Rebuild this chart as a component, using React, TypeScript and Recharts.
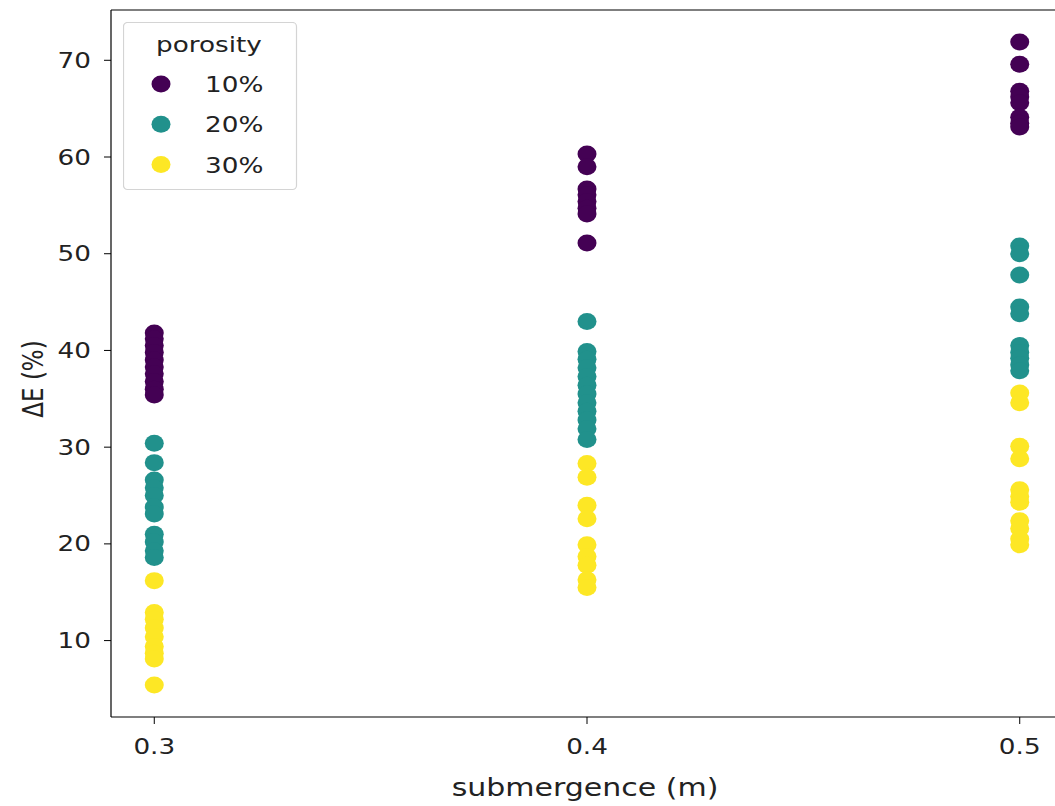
import React from 'react';
import { ScatterChart, Scatter, XAxis, YAxis, ReferenceLine } from 'recharts';

const FONT = '"DejaVu Sans", Verdana, sans-serif';
const TEXT = '#222';
const STRETCH = 1.25; // horizontal widening of the lettering
const TICK_FS = 21;
const LABEL_FS = 24;

// Submergence depths (m) and axis ticks
const SUBMERGENCE = [0.3, 0.4, 0.5];
const X_TICKS = [0.3, 0.4, 0.5];
const Y_TICKS = [10, 20, 30, 40, 50, 60, 70];

// ΔE (%) for porosity 10 %
const dE10_at030 = [41.8, 41.2, 40.5, 39.8, 39.0, 38.3, 37.6, 36.8, 36.0, 35.4];
const dE10_at040 = [60.3, 59.0, 56.7, 56.1, 55.4, 54.7, 54.1, 51.1];
const dE10_at050 = [71.9, 69.6, 66.8, 66.2, 65.6, 64.1, 63.5, 63.1];

// ΔE (%) for porosity 20 %
const dE20_at030 = [30.4, 28.4, 26.6, 25.8, 25.0, 23.8, 23.1, 21.0, 20.2, 19.3, 18.6];
const dE20_at040 = [43.0, 39.9, 39.1, 38.2, 37.3, 36.4, 35.5, 34.6, 33.7, 32.8, 31.9, 30.8];
const dE20_at050 = [50.8, 50.0, 47.8, 44.5, 43.8, 40.5, 39.8, 39.2, 38.5, 37.9];

// ΔE (%) for porosity 30 %
const dE30_at030 = [16.2, 12.9, 12.2, 11.3, 10.4, 9.4, 8.7, 8.1, 5.4];
const dE30_at040 = [28.3, 26.9, 24.0, 22.6, 19.9, 18.7, 17.8, 16.3, 15.5];
const dE30_at050 = [35.6, 34.6, 30.1, 28.8, 25.6, 24.9, 24.3, 22.4, 21.6, 20.5, 19.9];

const POROSITY_LABELS = ['10%', '20%', '30%'];
const POROSITY_COLORS = ['#440154', '#21918c', '#fde725'];
const POROSITY_VALUES = [
  [dE10_at030, dE10_at040, dE10_at050],
  [dE20_at030, dE20_at040, dE20_at050],
  [dE30_at030, dE30_at040, dE30_at050],
];

const series = POROSITY_LABELS.map((label, i) => ({
  label,
  color: POROSITY_COLORS[i],
  points: POROSITY_VALUES[i].flatMap((vals, j) =>
    vals.map((y) => ({ x: SUBMERGENCE[j], y }))
  ),
}));

const X_DOMAIN: [number, number] = [0.29, 0.51];
const Y_DOMAIN: [number, number] = [2.1, 75.2];

const MARK_RX = 9.5;
const MARK_RY = 8.5;

const dot = (color: string) => (props: any) => (
  <ellipse cx={props.cx} cy={props.cy} rx={MARK_RX} ry={MARK_RY} fill={color} />
);

const XTick = (props: any) => {
  const { x, y, payload } = props;
  return (
    <text transform={`translate(${x},${y + 30}) scale(${STRETCH},1)`} textAnchor="middle"
      fontFamily={FONT} fontSize={TICK_FS} fill={TEXT}>
      {Number(payload.value).toFixed(1)}
    </text>
  );
};

const YTick = (props: any) => {
  const { x, y, payload } = props;
  return (
    <text transform={`translate(${x},${y + 7.6}) scale(${STRETCH},1)`} textAnchor="end"
      fontFamily={FONT} fontSize={TICK_FS} fill={TEXT}>
      {payload.value}
    </text>
  );
};

const LegendBox = () => (
  <svg width={175} height={170} style={{ display: 'block' }}>
    <rect x={0.5} y={0.5} width={173} height={167} rx={4} ry={4}
      fill="#fff" fillOpacity={0.8} stroke="#d4d4d4" strokeWidth={1.2} />
    <text transform={`translate(86,30) scale(${STRETCH},1)`} textAnchor="middle"
      fontFamily={FONT} fontSize={TICK_FS} fill={TEXT}>
      porosity
    </text>
    {series.map((s, i) => (
      <g key={s.label}>
        <ellipse cx={38} cy={62 + i * 40.3} rx={MARK_RX} ry={MARK_RY} fill={s.color} />
        <text transform={`translate(82,${70 + i * 40.3}) scale(${STRETCH},1)`}
          fontFamily={FONT} fontSize={TICK_FS} fill={TEXT}>
          {s.label}
        </text>
      </g>
    ))}
  </svg>
);

export default function App() {
  return (
    <div style={{ position: 'absolute', left: 0, top: 0, width: 1055, height: 806, overflow: 'hidden', background: '#fff' }}>
      <ScatterChart width={1066} height={806} margin={{ top: 10, right: 3, bottom: 0, left: 0 }}>
        <XAxis
          xAxisId="b"
          type="number"
          dataKey="x"
          domain={X_DOMAIN}
          ticks={X_TICKS}
          height={89}
          tickSize={7}
          tickMargin={0}
          tickLine={{ stroke: '#000' }}
          axisLine={{ stroke: '#000', strokeWidth: 1.2 }}
          tick={<XTick />}
          label={{
            content: (p: any) => {
              const vb = p.viewBox;
              return (
                <text transform={`translate(${vb.x + vb.width / 2 - 2},796) scale(${STRETCH},1)`}
                  textAnchor="middle" fontFamily={FONT} fontSize={LABEL_FS} fill={TEXT}>
                  submergence (m)
                </text>
              );
            },
          }}
        />
        <YAxis
          yAxisId="l"
          type="number"
          dataKey="y"
          domain={Y_DOMAIN}
          ticks={Y_TICKS}
          width={111}
          tickSize={7}
          tickMargin={13}
          tickLine={{ stroke: '#000' }}
          axisLine={{ stroke: '#000', strokeWidth: 1.2 }}
          tick={<YTick />}
          label={{
            content: () => (
              <text transform={`translate(33,379) scale(${STRETCH},1) rotate(-90)`}
                textAnchor="middle" dominantBaseline="central"
                fontFamily={FONT} fontSize={LABEL_FS - 1} fill={TEXT}>
                ΔE (%)
              </text>
            ),
          }}
        />
        {/* upper and right frame of the plotting area */}
        <ReferenceLine xAxisId="b" yAxisId="l" y={Y_DOMAIN[1]} stroke="#000" strokeWidth={1.2} ifOverflow="visible" />
        <ReferenceLine xAxisId="b" yAxisId="l" x={X_DOMAIN[1]} stroke="#000" strokeWidth={1.2} ifOverflow="visible" />
        {series.map((s) => (
          <Scatter
            key={s.label}
            name={s.label}
            xAxisId="b"
            yAxisId="l"
            data={s.points}
            fill={s.color}
            shape={dot(s.color)}
            isAnimationActive={false}
          />
        ))}
      </ScatterChart>
      <div style={{ position: 'absolute', left: 123, top: 22 }}>
        <LegendBox />
      </div>
    </div>
  );
}
